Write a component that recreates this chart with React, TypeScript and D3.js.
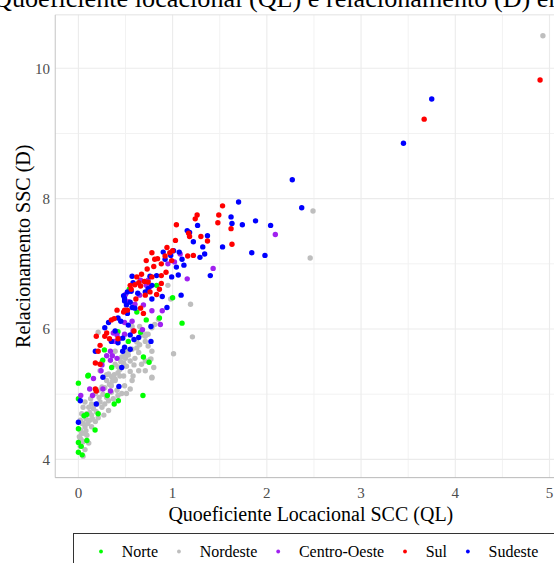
import React, { useEffect, useRef } from 'react';
import * as d3 from 'd3';

// Quociente locacional (QL) x relacionamento (D) por microrregião, agrupado por região
const xTicks = [0, 1, 2, 3, 4, 5];
const yTicks = [4, 6, 8, 10];
const regionNames = ['Norte', 'Nordeste', 'Centro-Oeste', 'Sul', 'Sudeste'];
const regionColors = ['#00ff00', '#bebebe', '#a020f0', '#ff0000', '#0000ff'];

const norte: [number, number][] = [
  [0, 5.17], [0.106, 5.29], [0.1, 5.28], [0, 4.93], [0.088, 4.69], [0.21, 4.7], [0, 4.47],
  [0.177, 4.45], [0, 4.26], [0.03, 4.2], [0, 4.11], [0.04, 4.07], [0.09, 4.29], [0.276, 5.68],
  [0.258, 5.52], [0.353, 5.41], [0.307, 4.98], [0.424, 4.9], [0.54, 6.61], [0.62, 6.26],
  [0.72, 6.14], [0.53, 5.81], [0.69, 5.57], [0.75, 5.49], [1.1, 6.09], [1.0, 6.48],
  [0.685, 4.98], [0.83, 6.67], [0.86, 6.17], [0.38, 4.85], [0.06, 4.67], [0.42, 5.96],
  [0.66, 5.95],
];

const nordeste: [number, number][] = [
  [4.93, 10.5], [2.49, 7.81], [2.46, 7.09], [1.19, 6.38], [1.21, 5.88], [1.01, 5.62],
  [0.78, 5.25], [0.71, 5.36], [0.76, 5.53], [0.21, 5.95],
  [0.25, 5.5], [0.23, 5.36], [0.32, 5.31], [0.35, 5.27], [0.42, 5.33], [0.44, 5.38],
  [0.39, 5.46], [0.48, 5.48], [0.46, 5.57], [0.49, 5.61], [0.53, 5.66], [0.57, 5.69],
  [0.62, 5.71], [0.65, 5.76], [0.71, 5.81], [0.67, 5.91], [0.72, 5.92], [0.74, 5.74],
  [0.78, 5.66], [0.71, 5.51], [0.77, 5.54], [0.8, 5.41], [0.78, 5.26], [0.59, 5.45],
  [0.64, 5.64], [0.55, 5.51], [0.51, 5.43], [0.44, 5.28], [0.39, 5.21], [0.35, 5.13],
  [0.3, 5.21], [0.25, 5.11], [0.21, 5.06], [0.18, 5.01], [0.13, 4.93], [0.07, 4.88],
  [0.05, 4.8], [0.11, 4.8], [0.14, 4.85], [0.19, 4.73], [0.25, 4.8], [0.28, 4.85],
  [0.32, 4.9], [0.37, 4.93], [0.42, 4.98], [0.41, 5.06], [0.35, 5.03], [0.3, 4.95],
  [0.23, 4.88], [0.09, 4.7], [0.035, 4.7], [0.02, 4.6], [0.05, 4.55], [0.12, 4.6],
  [0.14, 4.68], [0.07, 4.5], [0.035, 4.4], [0.09, 4.37], [0.02, 4.32], [0.05, 4.27],
  [0.11, 4.25], [0.02, 4.2], [0.07, 4.15], [0.05, 4.05], [0.08, 4.44], [0.18, 4.58],
  [0.21, 4.64], [0.27, 4.68], [0.32, 4.75], [0.14, 4.5], [0.39, 5.23], [0.48, 5.28],
  [0.57, 5.21], [0.55, 5.08], [0.49, 5.13], [0.46, 5.01], [0.51, 5.01], [0.58, 5.28],
  [0.64, 5.36], [0.67, 5.46], [0.48, 5.66], [0.39, 5.66], [0.98, 6.46], [0.95, 6.67],
  [0.81, 6.07], [0.85, 6.15], [0.78, 6.02], [0.74, 5.92], [0.65, 6.04], [0.71, 5.89],
  [0.57, 6.04], [0.49, 5.91],
  [0.01, 4.35], [0.03, 4.3], [0.06, 4.4], [0.1, 4.55], [0.15, 4.62], [0.02, 4.45],
  [0.04, 4.55], [0.08, 4.62], [0.12, 4.72], [0.16, 4.78], [0.2, 4.85], [0.22, 4.95],
  [0.26, 5.0], [0.28, 5.1], [0.33, 5.15], [0.36, 5.2], [0.38, 5.3], [0.42, 5.42],
  [0.45, 5.5], [0.5, 5.55], [0.53, 5.6], [0.55, 5.35], [0.6, 5.55], [0.62, 5.8], [0.3, 5.3],
];

const centroOeste: [number, number][] = [
  [1.155, 6.77], [1.08, 7.15], [1.02, 7.03], [0.95, 7.0], [0.74, 6.75], [0.72, 6.67],
  [0.66, 6.75], [0.76, 6.65], [0.89, 6.28], [0.87, 6.07], [0.78, 6.28], [0.69, 6.37],
  [0.6, 6.38], [0.53, 6.42], [0.5, 6.53], [0.58, 5.97], [0.57, 6.12], [0.49, 6.1],
  [0.49, 5.92], [0.43, 5.85], [0.37, 5.94], [0.41, 5.91], [0.38, 5.81], [0.34, 5.66],
  [0.36, 5.59], [0.41, 5.55], [0.3, 5.59], [0.34, 5.52], [0.25, 5.45], [0.16, 5.24],
  [0.24, 5.36], [0.12, 5.08], [0.15, 4.98], [0.025, 4.98], [0.26, 5.08], [0.34, 5.05],
  [0.68, 5.99], [0.65, 6.52], [1.43, 6.93], [2.09, 7.45],
];

const sul: [number, number][] = [
  [4.9, 9.82], [3.67, 9.22], [1.53, 7.89], [1.49, 7.75], [1.48, 7.63], [1.62, 7.54],
  [1.37, 7.35], [1.3, 7.42], [1.63, 7.3], [1.24, 7.69], [1.26, 7.75], [1.04, 7.6],
  [1.17, 7.47], [1.18, 7.42], [1.22, 7.13], [1.16, 7.12], [1.0, 7.2], [1.03, 7.36],
  [0.94, 7.25], [0.97, 7.17], [0.92, 7.12], [0.88, 7.0], [0.84, 7.08], [0.78, 7.17],
  [0.81, 7.07], [0.8, 6.96], [0.72, 7.05], [0.73, 6.92], [0.67, 6.84], [0.7, 6.73],
  [0.62, 6.8], [0.64, 6.71], [0.66, 6.66], [0.6, 6.68], [0.55, 6.67], [0.56, 6.61],
  [0.88, 6.7], [0.86, 6.61], [0.83, 6.53], [0.76, 6.57], [0.71, 6.52], [0.61, 6.46],
  [0.66, 6.32], [0.49, 6.29], [0.52, 6.29], [0.41, 6.29], [0.48, 6.26], [0.69, 6.24],
  [0.35, 6.14], [0.38, 6.16], [0.59, 5.97], [0.42, 5.85], [0.3, 5.94], [0.28, 5.89],
  [0.33, 5.85], [0.23, 5.75], [0.21, 5.66], [0.18, 5.48], [0.23, 5.46], [0.18, 5.08],
  [0.88, 6.82], [0.93, 6.87], [0.99, 7.05], [0.78, 6.8], [0.74, 6.72], [0.19, 5.05],
  [0.19, 5.89],
];

const sudeste: [number, number][] = [
  [3.75, 9.53], [3.45, 8.85], [2.27, 8.29], [2.37, 7.86], [1.7, 7.95], [1.62, 7.72],
  [1.63, 7.62], [1.74, 7.6], [1.88, 7.66], [2.04, 7.59], [1.37, 7.43], [1.32, 7.26],
  [1.53, 7.26], [1.34, 7.15], [1.29, 7.1], [1.84, 7.17], [1.98, 7.13], [1.4, 6.82],
  [1.265, 7.59], [1.155, 7.51], [1.18, 7.48], [1.22, 7.34], [1.07, 7.18], [1.1, 7.07],
  [1.12, 6.98], [1.04, 6.95], [1.01, 7.2], [0.98, 7.13], [0.92, 7.07], [0.9, 7.18],
  [0.99, 6.8], [1.06, 6.83], [1.09, 6.52], [0.94, 6.33], [0.89, 6.5], [0.76, 6.81],
  [0.83, 6.82], [0.78, 6.67], [0.74, 6.62], [0.71, 6.57], [0.78, 6.46], [0.63, 6.55],
  [0.57, 6.81], [0.58, 6.71], [0.56, 6.58], [0.52, 6.57], [0.49, 6.47], [0.51, 6.37],
  [0.57, 6.33], [0.6, 6.32], [0.52, 6.24], [0.49, 6.43], [0.48, 6.51], [0.55, 6.41],
  [0.32, 6.1], [0.42, 6.17], [0.45, 6.12], [0.53, 6.06], [0.55, 5.91], [0.59, 5.84],
  [0.64, 5.87], [0.77, 5.81], [0.47, 5.86], [0.42, 5.79], [0.39, 5.97], [0.28, 6.02],
  [0.35, 5.81], [0.49, 5.72], [0.47, 5.66], [0.46, 5.41], [0.18, 5.66], [0.26, 5.26],
  [0.43, 5.12], [0.19, 4.85], [0.02, 4.9], [0, 4.57], [0.55, 5.69], [0.77, 6.04],
];

const seriesByRegion: Record<string, [number, number][]> = {
  Norte: norte,
  Nordeste: nordeste,
  'Centro-Oeste': centroOeste,
  Sul: sul,
  Sudeste: sudeste,
};
const drawOrder = ['Nordeste', 'Norte', 'Centro-Oeste', 'Sudeste', 'Sul'];

const W = 554;
const H = 563;
const FONT = '"Liberation Serif", "Times New Roman", serif';

export default function App() {
  const ref = useRef<SVGSVGElement>(null);

  useEffect(() => {
    const svg = d3.select(ref.current);
    svg.selectAll('*').remove();

    const x = d3.scaleLinear().domain([0, 5]).range([78.4, 549.5]);
    const y = d3.scaleLinear().domain([4, 10]).range([459.4, 68.3]);
    const xLo = -0.246, xHi = 5.18, yLo = 3.72, yHi = 10.82;
    const left = x(xLo), right = x(xHi), top = y(yHi), bottom = y(yLo);
    const colorOf = d3.scaleOrdinal<string, string>().domain(regionNames).range(regionColors);

    svg.append('rect').attr('width', W).attr('height', H).attr('fill', '#fff');

    // title
    svg.append('text')
      .attr('x', -7).attr('y', 6.5)
      .attr('font-family', FONT).attr('font-size', 26.2).attr('fill', '#000')
      .text('Quoeficiente locacional (QL) e relacionamento (D) entre as microrregiões');

    const grid = svg.append('g');
    // minor grid
    const xMinor = d3.range(0.5, 5.5, 1);
    const yMinor = [5, 7, 9];
    grid.selectAll('line.xm').data(xMinor).join('line')
      .attr('x1', d => x(d)).attr('x2', d => x(d)).attr('y1', top).attr('y2', bottom)
      .attr('stroke', '#f2f2f2').attr('stroke-width', 1);
    grid.selectAll('line.ym').data(yMinor).join('line')
      .attr('x1', left).attr('x2', right).attr('y1', d => y(d)).attr('y2', d => y(d))
      .attr('stroke', '#f2f2f2').attr('stroke-width', 1);
    // major grid
    grid.selectAll('line.xM').data(xTicks).join('line')
      .attr('x1', d => x(d)).attr('x2', d => x(d)).attr('y1', top).attr('y2', bottom)
      .attr('stroke', '#ebebeb').attr('stroke-width', 1.1);
    grid.selectAll('line.yM').data(yTicks).join('line')
      .attr('x1', left).attr('x2', right).attr('y1', d => y(d)).attr('y2', d => y(d))
      .attr('stroke', '#ebebeb').attr('stroke-width', 1.1);

    // panel outline
    svg.append('line').attr('x1', left).attr('x2', right).attr('y1', top).attr('y2', top)
      .attr('stroke', '#e3e3e3').attr('stroke-width', 1);
    svg.append('line').attr('x1', left).attr('x2', left).attr('y1', top).attr('y2', bottom)
      .attr('stroke', '#c4c4c4').attr('stroke-width', 1);
    svg.append('line').attr('x1', left).attr('x2', right).attr('y1', bottom).attr('y2', bottom)
      .attr('stroke', '#b8b8b8').attr('stroke-width', 1);

    // points
    const pts = svg.append('g');
    drawOrder.forEach(name => {
      pts.append('g').selectAll('circle').data(seriesByRegion[name]).join('circle')
        .attr('cx', d => x(d[0])).attr('cy', d => y(d[1])).attr('r', 2.7)
        .attr('fill', colorOf(name));
    });

    // tick labels
    svg.append('g').selectAll('text').data(xTicks).join('text')
      .attr('x', d => x(d)).attr('y', 498).attr('text-anchor', 'middle')
      .attr('font-family', FONT).attr('font-size', 15).attr('fill', '#4d4d4d')
      .text(d => String(d));
    svg.append('g').selectAll('text').data(yTicks).join('text')
      .attr('x', 50).attr('y', d => y(d)).attr('dy', '0.35em').attr('text-anchor', 'end')
      .attr('font-family', FONT).attr('font-size', 15).attr('fill', '#4d4d4d')
      .text(d => String(d));

    // axis titles
    svg.append('text')
      .attr('x', (left + right) / 2).attr('y', 520.5).attr('text-anchor', 'middle')
      .attr('font-family', FONT).attr('font-size', 20).attr('fill', '#000')
      .text('Quoeficiente Locacional SCC (QL)');
    svg.append('text')
      .attr('transform', `translate(29.5,${(top + bottom) / 2}) rotate(-90)`)
      .attr('text-anchor', 'middle')
      .attr('font-family', FONT).attr('font-size', 20).attr('fill', '#000')
      .text('Relacionamento SSC (D)');

    // legend
    const lg = svg.append('g');
    lg.append('rect').attr('x', 73.5).attr('y', 533.5).attr('width', 600).attr('height', 60)
      .attr('fill', '#fff').attr('stroke', '#333').attr('stroke-width', 1);
    let cx = 101;
    regionNames.forEach(name => {
      lg.append('circle').attr('cx', cx).attr('cy', 551.5).attr('r', 1.9).attr('fill', colorOf(name));
      const t = lg.append('text').attr('x', cx + 20.7).attr('y', 557)
        .attr('font-family', FONT).attr('font-size', 16).attr('fill', '#000').text(name);
      const w = (t.node() as SVGTextElement).getComputedTextLength();
      cx = cx + 20.7 + w + 20.8;
    });
  }, []);

  return (
    <svg ref={ref} width={W} height={H} style={{ position: 'absolute', left: 0, top: 0 }} />
  );
}
